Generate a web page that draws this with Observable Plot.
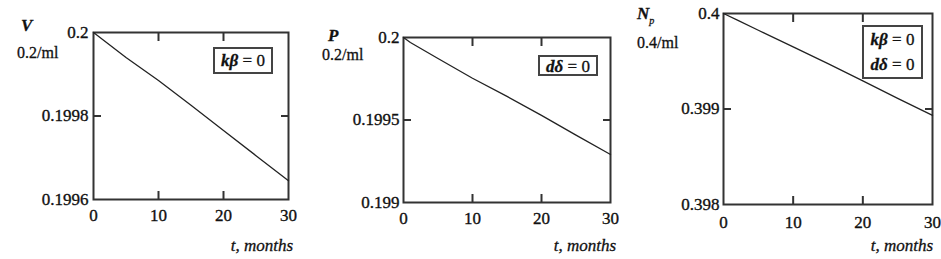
<!DOCTYPE html>
<html>
<head>
<meta charset="utf-8">
<script src="https://cdn.jsdelivr.net/npm/d3@7"></script>
<script src="https://cdn.jsdelivr.net/npm/@observablehq/plot@0.6"></script>
<style>
  html, body { margin: 0; padding: 0; background: #fff; font-family: "Liberation Serif", "DejaVu Serif", serif; }
  #chart { position: relative; width: 941px; height: 259px; overflow: hidden; font-family: "Liberation Serif", "DejaVu Serif", serif; color: #111; }
  #chart svg, #chart svg text { font-family: "Liberation Serif", "DejaVu Serif", serif !important; }
  #chart svg text { stroke: #111; stroke-width: 0.35px; }
  .lbl { position: absolute; white-space: nowrap; line-height: 1; font-family: "Liberation Serif", serif; -webkit-text-stroke: 0.3px #111; }
  .box { position: absolute; border: 2px solid #444; box-sizing: border-box; font-size: 17px; display: flex; flex-direction: column; justify-content: space-around; align-items: center; background: #fff; font-family: "Liberation Serif", serif; -webkit-text-stroke: 0.3px #111; }
  .box b { font-style: italic; }
</style>
</head>
<body>
<div id="chart"></div>
<script>
// ---- data ----
const tV = [0, 5, 10, 15, 20, 25, 30];
const V = [0.2, 0.19994, 0.199885, 0.199826, 0.199765, 0.199705, 0.199645];

const tP = [0, 1, 5, 10, 15, 20, 25, 30];
const P = [0.2, 0.19997, 0.199873, 0.199753, 0.199643, 0.199528, 0.199408, 0.199291];

const tN = [0, 2, 5, 10, 15, 20, 25, 30];
const Np = [0.4, 0.39993, 0.399825, 0.39965, 0.399475, 0.399295, 0.399112, 0.398934];

const xTicks = [0, 10, 20, 30];
const xTickLabels = ["0", "10", "20", "30"];
const yTicksV = [0.1996, 0.1998, 0.2];
const yLabelsV = ["0.1996", "0.1998", "0.2"];
const yTicksP = [0.199, 0.1995, 0.2];
const yLabelsP = ["0.199", "0.1995", "0.2"];
const yTicksN = [0.398, 0.399, 0.4];
const yLabelsN = ["0.398", "0.399", "0.4"];

const chart = document.getElementById("chart");
const FONT = "'Liberation Serif', 'DejaVu Serif', serif";

function panel({t, y, yDomain, yTicks, yLabels, margins, xPad, yPad}) {
  const data = t.map((ti, i) => ({t: ti, v: y[i]}));
  const ink = "#333";
  const svg = Plot.plot({
    width: 941, height: 259,
    marginLeft: margins[0], marginRight: margins[1], marginTop: margins[2], marginBottom: margins[3],
    x: {domain: [0, 30]},
    y: {domain: yDomain},
    marks: [
      // tick labels
      Plot.axisX({anchor: "bottom", ticks: xTicks, tickSize: 0, tickPadding: xPad, fontSize: 17,
        tickFormat: d => xTickLabels[xTicks.indexOf(d)], label: null, fill: "#111"}),
      Plot.axisY({anchor: "left", ticks: yTicks, tickSize: 0, tickPadding: yPad, fontSize: 17,
        tickFormat: d => yLabels[yTicks.indexOf(d)], label: null, fill: "#111"}),
      // inward tick marks (interior ticks only)
      Plot.axisX({anchor: "bottom", ticks: xTicks.slice(1, -1), tickSize: 8, dy: -8, text: null, label: null, stroke: ink, strokeWidth: 2}),
      Plot.axisX({anchor: "top", ticks: xTicks.slice(1, -1), tickSize: 8, dy: 8, text: null, label: null, stroke: ink, strokeWidth: 2}),
      Plot.axisY({anchor: "left", ticks: yTicks.slice(1, -1), tickSize: 8, dx: 8, text: null, label: null, stroke: ink, strokeWidth: 2}),
      Plot.axisY({anchor: "right", ticks: yTicks.slice(1, -1), tickSize: 8, dx: -8, text: null, label: null, stroke: ink, strokeWidth: 2}),
      Plot.frame({stroke: ink, strokeWidth: 2}),
      Plot.line(data, {x: "t", y: "v", stroke: "#222", strokeWidth: 1.3})
    ]
  });
  svg.style.position = "absolute";
  svg.style.left = "0px";
  svg.style.top = "0px";
  svg.style.background = "transparent";
  svg.style.maxWidth = "none";
  svg.style.fontFamily = FONT;
  svg.style.fontSize = "17px";
  chart.appendChild(svg);
}

panel({t: tV, y: V, yDomain: [0.1996, 0.2], yTicks: yTicksV, yLabels: yLabelsV,
  margins: [93, 653, 32, 60], xPad: 9, yPad: 5});
panel({t: tP, y: P, yDomain: [0.199, 0.2], yTicks: yTicksP, yLabels: yLabelsP,
  margins: [403, 331, 37, 57], xPad: 9, yPad: 4});
panel({t: tN, y: Np, yDomain: [0.398, 0.4], yTicks: yTicksN, yLabels: yLabelsN,
  margins: [723, 9, 13, 55], xPad: 11, yPad: 4});

// ---- annotations (HTML overlay) ----
function label(html, css) {
  const d = document.createElement("div");
  d.className = "lbl";
  d.innerHTML = html;
  Object.assign(d.style, css);
  chart.appendChild(d);
  return d;
}
// variable names and units
label("<i><b>V</b></i>", {left: "21px", top: "17px", fontSize: "17px"});
label("0.2/ml", {left: "17px", top: "45px", fontSize: "16px"});
label("<i><b>P</b></i>", {left: "328px", top: "27px", fontSize: "17px"});
label("0.2/ml", {left: "322px", top: "47px", fontSize: "16px"});
label("<i><b>N</b></i><sub style='font-size:10px;font-style:italic;position:relative;top:1px'>p</sub>", {left: "637px", top: "5px", fontSize: "17px"});
label("0.4/ml", {left: "637px", top: "35px", fontSize: "16px"});
// x axis titles
label("<i>t, months</i>", {right: (941 - 293) + "px", top: "237px", fontSize: "17px"});
label("<i>t, months</i>", {right: (941 - 616) + "px", top: "237px", fontSize: "17px"});
label("<i>t, months</i>", {right: (941 - 933) + "px", top: "237px", fontSize: "17px"});

// legend boxes
function box(lines, css) {
  const d = document.createElement("div");
  d.className = "box";
  d.innerHTML = lines.map(s => "<div>" + s + "</div>").join("");
  Object.assign(d.style, css);
  chart.appendChild(d);
}
box(["<b>kβ</b> = 0"], {left: "213px", top: "47px", width: "60px", height: "27px"});
box(["<b>dδ</b> = 0"], {left: "538px", top: "55px", width: "60px", height: "21px"});
box(["<b>kβ</b> = 0", "<b>dδ</b> = 0"], {left: "862px", top: "25px", width: "61px", height: "54px"});
</script>
</body>
</html>
